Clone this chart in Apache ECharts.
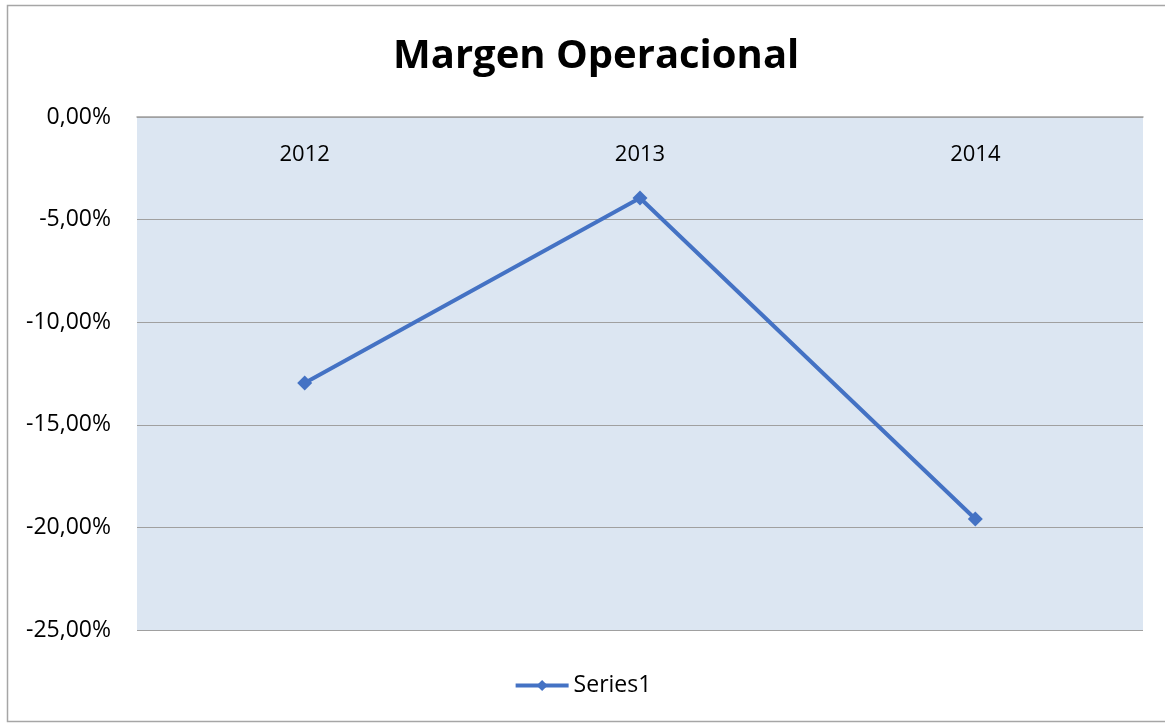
<!DOCTYPE html>
<html>
<head>
<meta charset="utf-8">
<script src="https://cdn.jsdelivr.net/npm/echarts@6/dist/echarts.min.js"></script>
<style>
html,body{margin:0;padding:0;background:#fff;}
#chart{width:1165px;height:724px;}
</style>
</head>
<body>
<div id="chart"></div>
<script>
const categories = ['2012', '2013', '2014'];
const seriesValues = [-12.96, -3.95, -19.59];
const seriesName = 'Series1';
const titleText = 'Margen Operacional';

const chart = echarts.init(document.getElementById('chart'), null, {renderer: 'canvas'});
const fmt = v => (v.toFixed(2).replace('.', ',')) + '%';
chart.setOption({
  animation: false,
  backgroundColor: '#ffffff',
  title: {
    text: titleText,
    left: 388,
    top: 32,
    textStyle: {fontFamily: 'Open Sans', fontWeight: 'bold', fontSize: 40, color: '#000'}
  },
  graphic: [{
    type: 'rect',
    shape: {x: 7.5, y: 5.5, width: 1170, height: 716},
    style: {fill: 'none', stroke: '#a6a6a6', lineWidth: 1.5},
    silent: true
  }],
  legend: {
    bottom: 22,
    left: 'center',
    itemWidth: 53,
    itemHeight: 14,
    itemGap: 10,
    lineStyle: {width: 4},
    textStyle: {fontFamily: 'Open Sans', fontSize: 23, color: '#000'},
    data: [seriesName]
  },
  grid: {
    left: 137, right: 22, top: 117, bottom: 94,
    show: true, backgroundColor: '#dce6f2', borderWidth: 0
  },
  xAxis: {
    type: 'category',
    data: categories,
    position: 'top',
    boundaryGap: true,
    axisLine: {show: true, lineStyle: {color: '#a0a0a0', width: 1.5}},
    axisTick: {show: false},
    axisLabel: {inside: true, margin: 27, fontFamily: 'Open Sans', fontSize: 22, color: '#000'}
  },
  yAxis: {
    type: 'value',
    min: -25, max: 0, interval: 5,
    axisLine: {show: false},
    axisTick: {show: false},
    splitLine: {show: true, lineStyle: {color: '#a0a0a0', width: 1.2}},
    axisLabel: {formatter: fmt, margin: 26, fontFamily: 'Open Sans', fontSize: 23, color: '#000'}
  },
  series: [{
    name: seriesName,
    type: 'line',
    data: seriesValues,
    symbol: 'diamond',
    symbolSize: 15,
    lineStyle: {color: '#4472c4', width: 4},
    itemStyle: {color: '#4472c4'}
  }]
});
</script>
</body>
</html>
